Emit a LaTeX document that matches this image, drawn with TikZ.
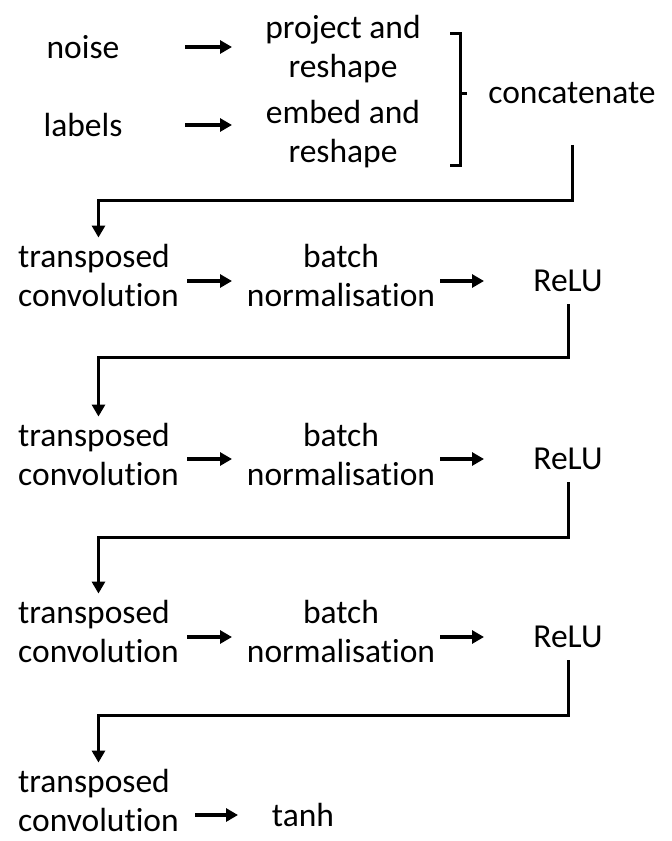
\documentclass[tikz,border=0pt]{standalone}
\usepackage{fontspec}
\setmainfont[Ligatures=NoCommon]{Carlito}
\usetikzlibrary{arrows.meta}
\begin{document}
\begin{tikzpicture}[x=1pt,y=-1pt,
  lbl/.style={font=\fontsize{33.5}{39}\selectfont, align=center, inner sep=0pt},
  lft/.style={lbl, align=left, anchor=west},
  arr/.style={line width=4pt, -{Triangle[length=12pt,width=13pt]}},
  conn/.style={line width=3pt, -{Triangle[length=12pt,width=13pt]}},
  brk/.style={line width=3pt}]
\useasboundingbox (0,0) rectangle (672,841);

% inputs and their preprocessing
\node[lbl] (noise)  at (83,47)   {noise};
\node[lbl] (labels) at (83,125)  {labels};
\node[lbl] (proj)   at (343,49)  {project and\\reshape};
\node[lbl] (embed)  at (343,134) {embed and\\reshape};
\node[lbl] (concat) at (572,93)  {concatenate};
\draw[arr] (185,0 |- noise)  -- (232,0 |- noise);
\draw[arr] (185,0 |- labels) -- (232,0 |- labels);

% bracket joining the two branches
\draw[brk] (450,33) -- (460,33) -- (460,165) -- (450,165);
\draw[brk] (460,93) -- (467,93);

% generator blocks
\node[lft] (tc1)   at (18,275)  {transposed\\convolution};
\node[lbl] (bn1)   at (341,275) {batch\\normalisation};
\node[lbl] (relu1) at (568,281) {ReLU};

\node[lft] (tc2)   at (18,454)  {transposed\\convolution};
\node[lbl] (bn2)   at (341,454) {batch\\normalisation};
\node[lbl] (relu2) at (568,459) {ReLU};

\node[lft] (tc3)   at (18,631)  {transposed\\convolution};
\node[lbl] (bn3)   at (341,631) {batch\\normalisation};
\node[lbl] (relu3) at (568,637) {ReLU};

\node[lft] (tc4)   at (18,800)  {transposed\\convolution};
\node[lbl] (tanh)  at (303,815) {tanh};

% arrows within each row
\draw[arr] (187,0 |- relu1) -- (232,0 |- relu1);
\draw[arr] (440,0 |- relu1) -- (484,0 |- relu1);
\draw[arr] (187,0 |- relu2) -- (232,0 |- relu2);
\draw[arr] (440,0 |- relu2) -- (484,0 |- relu2);
\draw[arr] (187,0 |- relu3) -- (232,0 |- relu3);
\draw[arr] (440,0 |- relu3) -- (484,0 |- relu3);
\draw[arr] (195,0 |- tanh)  -- (238,0 |- tanh);

% elbow connectors between rows
\draw[conn, shorten <=41pt, shorten >=6pt] (concat.south) |- (tc1.north |- 0,200) -- (tc1.north);
\draw[conn, shorten <=12pt, shorten >=6pt] (relu1.south) |- (tc2.north |- 0,357) -- (tc2.north);
\draw[conn, shorten <=12pt, shorten >=6pt] (relu2.south) |- (tc3.north |- 0,537) -- (tc3.north);
\draw[conn, shorten <=12pt, shorten >=6pt] (relu3.south) |- (tc4.north |- 0,715) -- (tc4.north);
\end{tikzpicture}
\end{document}
